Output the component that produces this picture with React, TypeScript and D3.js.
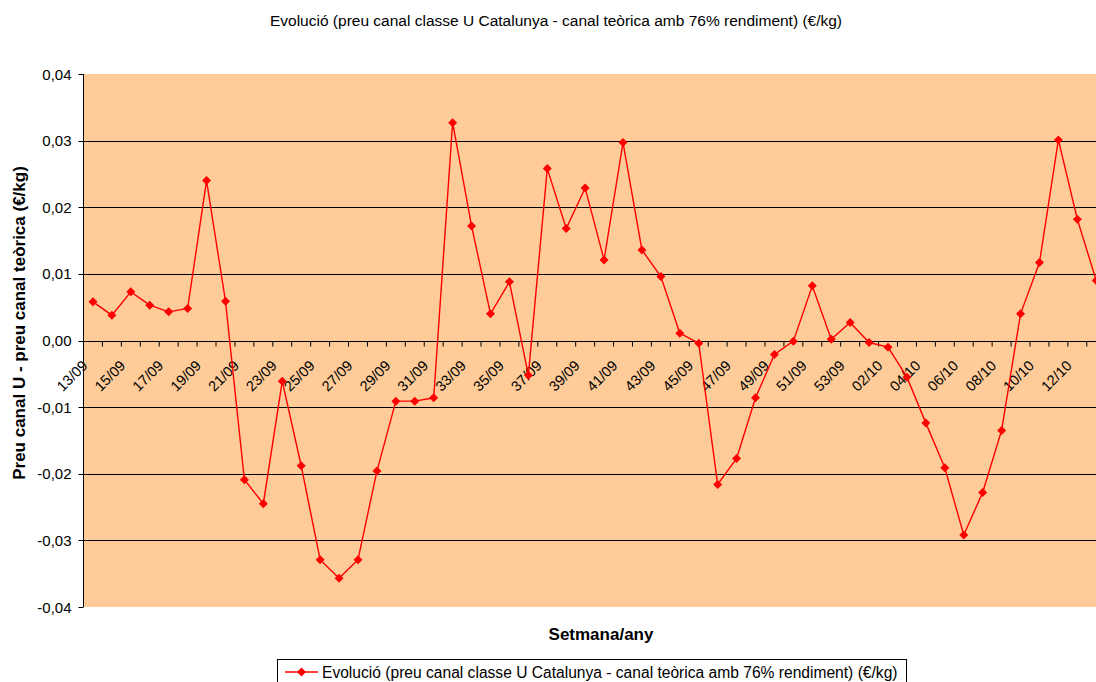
import React from "react";
import * as d3 from "d3";

const categories: string[] = [
  "13/09","14/09","15/09","16/09","17/09","18/09","19/09","20/09","21/09","22/09",
  "23/09","24/09","25/09","26/09","27/09","28/09","29/09","30/09","31/09","32/09",
  "33/09","34/09","35/09","36/09","37/09","38/09","39/09","40/09","41/09","42/09",
  "43/09","44/09","45/09","46/09","47/09","48/09","49/09","50/09","51/09","52/09",
  "53/09","01/10","02/10","03/10","04/10","05/10","06/10","07/10","08/10","09/10",
  "10/10","11/10","12/10","13/10"
];

const values: number[] = [
  0.0058, 0.0038, 0.0073, 0.0053, 0.0043, 0.0048, 0.0240, 0.0059, -0.0209, -0.0245,
  -0.0061, -0.0188, -0.0329, -0.0357, -0.0329, -0.0196, -0.0091, -0.0091, -0.0086, 0.0327,
  0.0172, 0.0040, 0.0088, -0.0052, 0.0258, 0.0168, 0.0229, 0.0121, 0.0297, 0.0136,
  0.0096, 0.0011, -0.0004, -0.0216, -0.0177, -0.0086, -0.0021, -0.0001, 0.0082, 0.0002,
  0.0027, -0.0003, -0.0010, -0.0055, -0.0124, -0.0191, -0.0292, -0.0228, -0.0135, 0.0040,
  0.0117, 0.0301, 0.0182, 0.0090
];

const yTicks: number[] = [-0.04, -0.03, -0.02, -0.01, 0, 0.01, 0.02, 0.03, 0.04];

const title = "Evolució (preu canal classe U Catalunya - canal teòrica amb 76% rendiment) (€/kg)";
const yTitle = "Preu canal U - preu canal teòrica (€/kg)";
const xTitle = "Setmana/any";
const seriesName = "Evolució (preu canal classe U Catalunya - canal teòrica amb 76% rendiment) (€/kg)";

export default function App() {
  const W = 1096, H = 682;
  const left = 83.5, top = 74, bottom = 607;
  const step = 18.93;
  const x = d3.scaleBand<string>().domain(categories).range([left, left + step * categories.length]).paddingInner(0).paddingOuter(0);
  const y = d3.scaleLinear().domain([-0.04, 0.04]).range([bottom, top]);
  const cx = (c: string) => (x(c) as number) + x.bandwidth() / 2;
  const fmt = (v: number) => d3.format(".2f")(v).replace("−", "-").replace(".", ",");
  const line = d3.line<number>().x((_, i) => cx(categories[i])).y((v) => y(v));
  const font = "'Liberation Sans', Arial, sans-serif";
  const y0 = Math.round(y(0)) + 0.5;
  const diamond = (px: number, py: number, r = 4.5) => `M${px},${py - r}L${px + r},${py}L${px},${py + r}L${px - r},${py}Z`;
  const plotRight = left + step * categories.length;

  return (
    <svg width={W} height={H} style={{ position: "absolute", left: 0, top: 0, background: "#fff" }} fontFamily={font}>
      <text x={556} y={25.5} fontSize={15.5} textAnchor="middle">{title}</text>
      <rect x={left} y={top} width={plotRight - left} height={bottom - top} fill="#FFCC99" />
      {yTicks.filter((t) => t !== 0 && Math.abs(t) !== 0.04).map((t) => (
        <line key={t} x1={left} x2={plotRight} y1={Math.round(y(t)) + 0.5} y2={Math.round(y(t)) + 0.5} stroke="#000" strokeWidth={1} />
      ))}
      <line x1={left} x2={left} y1={top} y2={bottom} stroke="#000" />
      {yTicks.map((t) => (
        <g key={"yt" + t}>
          <line x1={left - 5} x2={left} y1={Math.round(y(t)) + 0.5} y2={Math.round(y(t)) + 0.5} stroke="#000" />
          <text x={71.5} y={y(t) + 5.5} fontSize={15} textAnchor="end">{fmt(t)}</text>
        </g>
      ))}
      <line x1={left} x2={plotRight} y1={y0} y2={y0} stroke="#000" />
      {d3.range(categories.length + 1).map((k) => (
        <line key={"xt" + k} x1={left + step * k} x2={left + step * k} y1={y0} y2={y0 + 5} stroke="#000" />
      ))}
      {categories.map((c, i) => i % 2 === 0 ? (
        <text key={"xl" + c} transform={`translate(${cx(c) - 4.5},${y0 + 25}) rotate(-45)`} fontSize={14.5} textAnchor="end">{c}</text>
      ) : null)}
      <path d={line(values) || ""} fill="none" stroke="#FF0000" strokeWidth={1.4} />
      {values.map((v, i) => (
        <path key={"m" + i} d={diamond(cx(categories[i]), y(v))} fill="#FF0000" />
      ))}
      <text transform={`translate(25,323) rotate(-90)`} fontSize={17} fontWeight="bold" textAnchor="middle">{yTitle}</text>
      <text x={601} y={640} fontSize={17} fontWeight="bold" textAnchor="middle">{xTitle}</text>
      <rect x={277.5} y={659.5} width={629} height={30} fill="#fff" stroke="#000" />
      <line x1={285} x2={318} y1={672} y2={672} stroke="#FF0000" strokeWidth={1.4} />
      <path d={diamond(301.5, 672)} fill="#FF0000" />
      <text x={322} y={677.5} fontSize={15.6}>{seriesName}</text>
    </svg>
  );
}
